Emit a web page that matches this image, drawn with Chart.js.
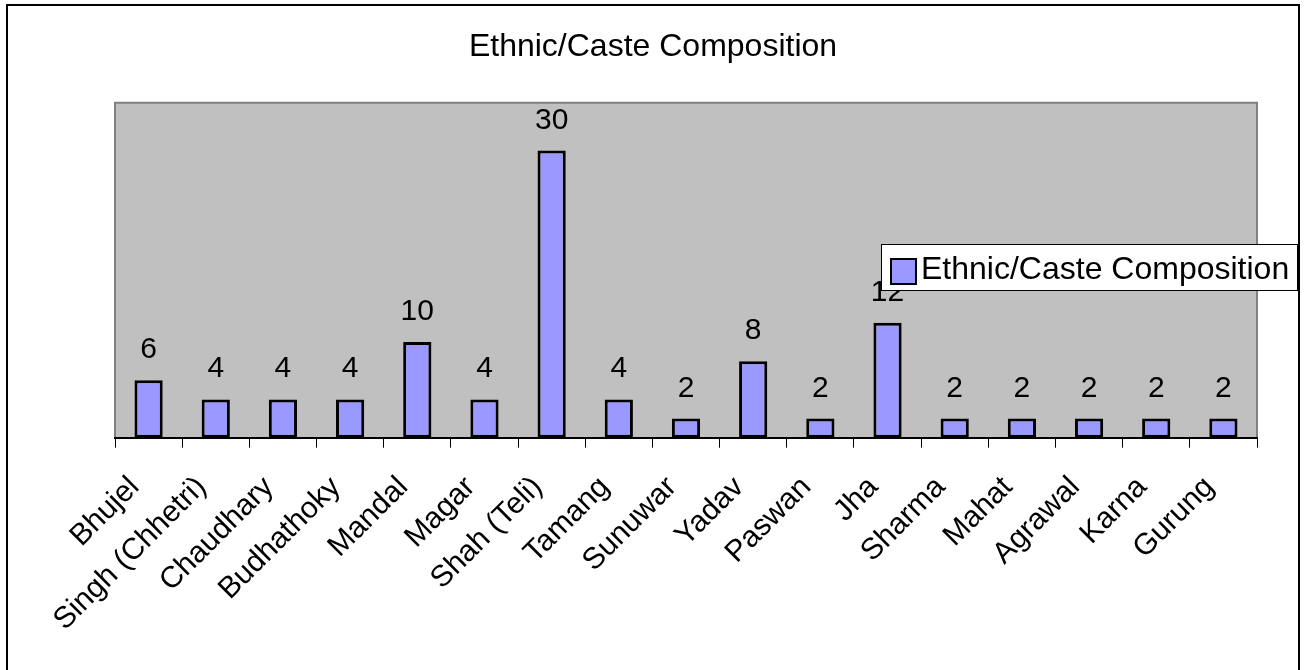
<!DOCTYPE html>
<html lang="en">
<head>
    <meta charset="UTF-8">
    <title>Ethnic/Caste Composition</title>
    <script src="https://cdn.jsdelivr.net/npm/chart.js"></script>
    <style>
        body {
            margin: 0;
            background: #ffffff;
        }
        .chart-box {
            position: relative;
            width: 1306px;
            height: 670px;
        }
    </style>
</head>
<body>
    <div class="chart-box">
        <canvas id="casteChart"></canvas>
    </div>

    <script>
        // data
        const chartTitle = 'Ethnic/Caste Composition';
        const seriesName = 'Ethnic/Caste Composition';
        const categories = ['Bhujel', 'Singh (Chhetri)', 'Chaudhary', 'Budhathoky', 'Mandal', 'Magar', 'Shah (Teli)',
            'Tamang', 'Sunuwar', 'Yadav', 'Paswan', 'Jha', 'Sharma', 'Mahat', 'Agrawal', 'Karna', 'Gurung'];
        const counts = [6, 4, 4, 4, 10, 4, 30, 4, 2, 8, 2, 12, 2, 2, 2, 2, 2];

        const FONT = "'Liberation Sans', Arial, sans-serif";
        const barFill = '#9999FF';

        // grey plot area with its frame (bottom side is the black axis line)
        const plotBackground = {
            id: 'plotBackground',
            beforeDraw(chart) {
                const { ctx, chartArea: a } = chart;
                ctx.save();
                ctx.fillStyle = '#C0C0C0';
                ctx.fillRect(a.left, a.top, a.right - a.left, a.bottom - a.top);
                ctx.strokeStyle = '#808080';
                ctx.lineWidth = 2;
                ctx.beginPath();
                ctx.moveTo(a.left, a.bottom);
                ctx.lineTo(a.left, a.top);
                ctx.lineTo(a.right, a.top);
                ctx.lineTo(a.right, a.bottom);
                ctx.stroke();

                // title centred on the whole picture, not the plot
                ctx.fillStyle = '#000';
                ctx.font = '32px ' + FONT;
                ctx.textAlign = 'center';
                ctx.textBaseline = 'alphabetic';
                ctx.fillText(chartTitle, chart.width / 2, 56);
                ctx.restore();
            }
        };

        // value above every bar
        const valueLabels = {
            id: 'valueLabels',
            afterDatasetsDraw(chart) {
                const { ctx } = chart;
                const meta = chart.getDatasetMeta(0);
                ctx.save();
                ctx.font = '30px ' + FONT;
                ctx.fillStyle = '#000';
                ctx.textAlign = 'center';
                ctx.textBaseline = 'alphabetic';
                meta.data.forEach((bar, i) => {
                    ctx.fillText(String(chart.data.datasets[0].data[i]), bar.x, bar.y - 22);
                });
                ctx.restore();
            }
        };

        // legend box sitting over the plot, plus the outer frame
        const boxLegend = {
            id: 'boxLegend',
            afterDraw(chart) {
                const { ctx } = chart;
                const ds = chart.data.datasets[0];
                ctx.save();
                ctx.fillStyle = '#fff';
                ctx.fillRect(881, 244, 416, 46);
                ctx.strokeStyle = '#000';
                ctx.lineWidth = 1;
                ctx.strokeRect(881.5, 244.5, 416, 46);

                ctx.fillStyle = ds.backgroundColor;
                ctx.fillRect(891, 259, 25, 25);
                ctx.lineWidth = 2;
                ctx.strokeRect(891, 259, 25, 25);

                ctx.fillStyle = '#000';
                ctx.font = '32px ' + FONT;
                ctx.textAlign = 'left';
                ctx.textBaseline = 'alphabetic';
                ctx.fillText(ds.label, 921, 279);

                ctx.lineWidth = 2;
                ctx.strokeRect(7, 5, 1292, 700);
                ctx.restore();
            }
        };

        new Chart(document.getElementById('casteChart'), {
            type: 'bar',
            data: {
                labels: categories,
                datasets: [{
                    label: seriesName,
                    data: counts,
                    backgroundColor: barFill,
                    borderColor: '#000',
                    borderWidth: 3,
                    borderSkipped: false,
                    categoryPercentage: 1,
                    barPercentage: 0.42
                }]
            },
            options: {
                responsive: true,
                maintainAspectRatio: false,
                animation: false,
                layout: {
                    padding: { left: 115, right: 49, top: 102.7, bottom: 0 }
                },
                plugins: {
                    legend: { display: false },
                    tooltip: { enabled: false },
                    title: { display: false }
                },
                scales: {
                    x: {
                        afterFit: (scale) => { scale.height = 232.3; },
                        grid: {
                            display: true,
                            offset: true,
                            drawOnChartArea: false,
                            drawTicks: true,
                            tickLength: 10,
                            color: '#000',
                            lineWidth: 1
                        },
                        border: { display: true, color: '#000', width: 2 },
                        ticks: {
                            color: '#000',
                            font: { family: FONT, size: 30 },
                            minRotation: 45,
                            maxRotation: 45,
                            autoSkip: false,
                            padding: 22,
                            labelOffset: -14
                        }
                    },
                    y: {
                        display: false,
                        min: 0,
                        max: 35
                    }
                }
            },
            plugins: [plotBackground, valueLabels, boxLegend]
        });
    </script>
</body>
</html>
